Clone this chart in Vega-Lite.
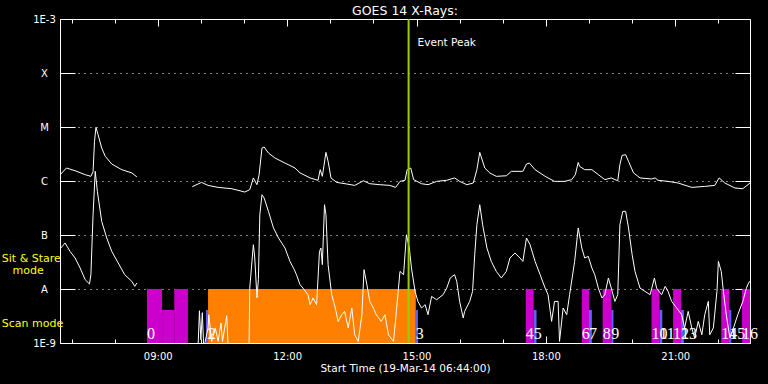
{
  "$schema": "https://vega.github.io/schema/vega-lite/v6.json",
  "width": 690,
  "height": 324,
  "autosize": {"type": "none"},
  "padding": {"left": 60, "top": 19, "right": 18, "bottom": 41},
  "background": "#000000",
  "title": {"text": "GOES 14 X-Rays:", "color": "#ffffff", "font": "DejaVu Sans", "fontSize": 12.5, "fontWeight": "normal", "anchor": "middle", "offset": 3, "dy": 6},
  "config": {
    "view": {"stroke": null},
    "axis": {"domainColor": "#ffffff", "domainWidth": 1, "tickColor": "#ffffff", "tickWidth": 1, "labelColor": "#ffffff", "titleColor": "#ffffff", "labelFont": "DejaVu Sans", "titleFont": "DejaVu Sans", "labelFontSize": 10, "titleFontWeight": "normal", "labelFlush": false, "labelOverlap": false, "grid": false, "gridColor": "#ffffff", "gridOpacity": 1}
  },
  "resolve": {"axis": {"x": "independent", "y": "independent"}},
  "layer": [
    {
      "data": {
        "values": [
          {"obs": "A", "t1": "2014-03-19T08:45Z", "t2": "2014-03-19T09:06Z", "top": 1e-8},
          {"obs": "A", "t1": "2014-03-19T09:06Z", "t2": "2014-03-19T09:23Z", "top": 4.1e-9},
          {"obs": "A", "t1": "2014-03-19T09:23Z", "t2": "2014-03-19T09:42Z", "top": 1e-8},
          {"obs": "B", "t1": "2014-03-19T10:07Z", "t2": "2014-03-19T10:10Z", "top": 4.1e-9},
          {"obs": "C", "t1": "2014-03-19T10:10Z", "t2": "2014-03-19T14:59Z", "top": 1e-8},
          {"obs": "B", "t1": "2014-03-19T14:59Z", "t2": "2014-03-19T15:02Z", "top": 4.1e-9},
          {"obs": "A", "t1": "2014-03-19T17:32Z", "t2": "2014-03-19T17:43Z", "top": 1e-8},
          {"obs": "B", "t1": "2014-03-19T17:43Z", "t2": "2014-03-19T17:47Z", "top": 4.1e-9},
          {"obs": "A", "t1": "2014-03-19T18:50Z", "t2": "2014-03-19T19:00Z", "top": 1e-8},
          {"obs": "B", "t1": "2014-03-19T19:00Z", "t2": "2014-03-19T19:04Z", "top": 4.1e-9},
          {"obs": "A", "t1": "2014-03-19T19:19Z", "t2": "2014-03-19T19:31Z", "top": 1e-8},
          {"obs": "B", "t1": "2014-03-19T19:31Z", "t2": "2014-03-19T19:34Z", "top": 4.1e-9},
          {"obs": "A", "t1": "2014-03-19T20:27Z", "t2": "2014-03-19T20:38Z", "top": 1e-8},
          {"obs": "B", "t1": "2014-03-19T20:38Z", "t2": "2014-03-19T20:42Z", "top": 4.1e-9},
          {"obs": "A", "t1": "2014-03-19T20:57Z", "t2": "2014-03-19T21:08Z", "top": 1e-8},
          {"obs": "B", "t1": "2014-03-19T21:08Z", "t2": "2014-03-19T21:12Z", "top": 4.1e-9},
          {"obs": "A", "t1": "2014-03-19T22:04Z", "t2": "2014-03-19T22:15Z", "top": 1e-8},
          {"obs": "B", "t1": "2014-03-19T22:15Z", "t2": "2014-03-19T22:18Z", "top": 4.1e-9},
          {"obs": "A", "t1": "2014-03-19T22:33Z", "t2": "2014-03-19T22:44Z", "top": 1e-8}
        ]
      },
      "mark": {"type": "rect", "clip": true},
      "encoding": {
        "x": {
          "field": "t1", "type": "temporal",
          "scale": {"type": "utc", "domain": [1395211440000, 1395269040000]},
          "axis": {"orient": "bottom", "values": [1395219600000, 1395230400000, 1395241200000, 1395252000000, 1395262800000], "ticks": false, "labelPadding": 8, "labelBaseline": "top", "labelExpr": "utcFormat(datum.value, '%H:%M')", "domain": true, "title": "Start Time (19-Mar-14 06:44:00)", "titleFontSize": 10.5, "titlePadding": 2}
        },
        "x2": {"field": "t2"},
        "y": {
          "field": "top", "type": "quantitative",
          "scale": {"type": "log", "domain": [1e-9, 1e-3], "nice": false},
          "axis": {"orient": "left", "values": [1e-9, 1e-8, 1e-7, 1e-6, 1e-5, 1e-4, 1e-3], "labelExpr": "datum.value > 0.0009 ? '1E-3' : datum.value > 0.00009 ? 'X' : datum.value > 0.000009 ? 'M' : datum.value > 0.0000009 ? 'C' : datum.value > 0.00000009 ? 'B' : datum.value > 0.000000009 ? 'A' : '1E-9'", "ticks": false, "labelAlign": "center", "labelBaseline": "middle", "labelPadding": 16, "grid": true, "gridDash": [1, 5], "domain": true, "title": null}
        },
        "y2": {"datum": 1e-9},
        "color": {"field": "obs", "type": "nominal", "scale": {"domain": ["A", "B", "C"], "range": ["#cc00cc", "#6060ff", "#ff8000"]}, "legend": null}
      }
    },
    {
      "data": {
        "values": [
          {"s": "L1", "t": "2014-03-19T06:44Z", "v": 1.3e-6},
          {"s": "L1", "t": "2014-03-19T06:53Z", "v": 1.74e-6},
          {"s": "L1", "t": "2014-03-19T07:05Z", "v": 1.55e-6},
          {"s": "L1", "t": "2014-03-19T07:19Z", "v": 1.31e-6},
          {"s": "L1", "t": "2014-03-19T07:27Z", "v": 1.22e-6},
          {"s": "L1", "t": "2014-03-19T07:30Z", "v": 1.49e-6},
          {"s": "L1", "t": "2014-03-19T07:32Z", "v": 5.41e-6},
          {"s": "L1", "t": "2014-03-19T07:34Z", "v": 9.84e-6},
          {"s": "L1", "t": "2014-03-19T07:37Z", "v": 7.2e-6},
          {"s": "L1", "t": "2014-03-19T07:42Z", "v": 4.08e-6},
          {"s": "L1", "t": "2014-03-19T07:47Z", "v": 2.86e-6},
          {"s": "L1", "t": "2014-03-19T07:56Z", "v": 2.06e-6},
          {"s": "L1", "t": "2014-03-19T08:10Z", "v": 1.62e-6},
          {"s": "L1", "t": "2014-03-19T08:24Z", "v": 1.41e-6},
          {"s": "L1", "t": "2014-03-19T08:31Z", "v": 1.19e-6},
          {"s": "L2", "t": "2014-03-19T09:48Z", "v": 7.84e-7},
          {"s": "L2", "t": "2014-03-19T09:56Z", "v": 8.8e-7},
          {"s": "L2", "t": "2014-03-19T10:01Z", "v": 9.42e-7},
          {"s": "L2", "t": "2014-03-19T10:10Z", "v": 8.29e-7},
          {"s": "L2", "t": "2014-03-19T10:24Z", "v": 7.61e-7},
          {"s": "L2", "t": "2014-03-19T10:43Z", "v": 7.2e-7},
          {"s": "L2", "t": "2014-03-19T11:01Z", "v": 6.25e-7},
          {"s": "L2", "t": "2014-03-19T11:08Z", "v": 6.9e-7},
          {"s": "L2", "t": "2014-03-19T11:13Z", "v": 1.14e-6},
          {"s": "L2", "t": "2014-03-19T11:18Z", "v": 8.54e-7},
          {"s": "L2", "t": "2014-03-19T11:21Z", "v": 1.31e-6},
          {"s": "L2", "t": "2014-03-19T11:25Z", "v": 4.08e-6},
          {"s": "L2", "t": "2014-03-19T11:28Z", "v": 4.26e-6},
          {"s": "L2", "t": "2014-03-19T11:34Z", "v": 3.3e-6},
          {"s": "L2", "t": "2014-03-19T11:43Z", "v": 2.67e-6},
          {"s": "L2", "t": "2014-03-19T11:57Z", "v": 2.15e-6},
          {"s": "L2", "t": "2014-03-19T12:11Z", "v": 1.74e-6},
          {"s": "L2", "t": "2014-03-19T12:18Z", "v": 1.41e-6},
          {"s": "L2", "t": "2014-03-19T12:32Z", "v": 1.14e-6},
          {"s": "L2", "t": "2014-03-19T12:43Z", "v": 1.03e-6},
          {"s": "L2", "t": "2014-03-19T12:46Z", "v": 1.62e-6},
          {"s": "L2", "t": "2014-03-19T12:49Z", "v": 1.22e-6},
          {"s": "L2", "t": "2014-03-19T12:54Z", "v": 3.39e-6},
          {"s": "L2", "t": "2014-03-19T12:57Z", "v": 2.31e-6},
          {"s": "L2", "t": "2014-03-19T13:01Z", "v": 1.14e-6},
          {"s": "L2", "t": "2014-03-19T13:09Z", "v": 9.42e-7},
          {"s": "L2", "t": "2014-03-19T13:23Z", "v": 8.8e-7},
          {"s": "L2", "t": "2014-03-19T13:34Z", "v": 8.29e-7},
          {"s": "L2", "t": "2014-03-19T13:46Z", "v": 1.01e-6},
          {"s": "L2", "t": "2014-03-19T13:55Z", "v": 8.91e-7},
          {"s": "L2", "t": "2014-03-19T14:09Z", "v": 8.54e-7},
          {"s": "L2", "t": "2014-03-19T14:23Z", "v": 8.29e-7},
          {"s": "L2", "t": "2014-03-19T14:31Z", "v": 7.61e-7},
          {"s": "L2", "t": "2014-03-19T14:37Z", "v": 9.84e-7},
          {"s": "L2", "t": "2014-03-19T14:44Z", "v": 1.03e-6},
          {"s": "L2", "t": "2014-03-19T14:47Z", "v": 1.62e-6},
          {"s": "L2", "t": "2014-03-19T14:52Z", "v": 1.74e-6},
          {"s": "L2", "t": "2014-03-19T14:56Z", "v": 1.06e-6},
          {"s": "L2", "t": "2014-03-19T15:07Z", "v": 8.91e-7},
          {"s": "L2", "t": "2014-03-19T15:16Z", "v": 8.54e-7},
          {"s": "L2", "t": "2014-03-19T15:28Z", "v": 9.84e-7},
          {"s": "L2", "t": "2014-03-19T15:42Z", "v": 1.03e-6},
          {"s": "L2", "t": "2014-03-19T15:53Z", "v": 1.14e-6},
          {"s": "L2", "t": "2014-03-19T16:00Z", "v": 9.84e-7},
          {"s": "L2", "t": "2014-03-19T16:10Z", "v": 8.54e-7},
          {"s": "L2", "t": "2014-03-19T16:19Z", "v": 9.18e-7},
          {"s": "L2", "t": "2014-03-19T16:24Z", "v": 1.62e-6},
          {"s": "L2", "t": "2014-03-19T16:28Z", "v": 3.39e-6},
          {"s": "L2", "t": "2014-03-19T16:35Z", "v": 1.74e-6},
          {"s": "L2", "t": "2014-03-19T16:42Z", "v": 1.41e-6},
          {"s": "L2", "t": "2014-03-19T16:51Z", "v": 1.22e-6},
          {"s": "L2", "t": "2014-03-19T17:05Z", "v": 1.25e-6},
          {"s": "L2", "t": "2014-03-19T17:12Z", "v": 1.51e-6},
          {"s": "L2", "t": "2014-03-19T17:28Z", "v": 1.51e-6},
          {"s": "L2", "t": "2014-03-19T17:33Z", "v": 2.06e-6},
          {"s": "L2", "t": "2014-03-19T17:37Z", "v": 2.15e-6},
          {"s": "L2", "t": "2014-03-19T17:45Z", "v": 1.62e-6},
          {"s": "L2", "t": "2014-03-19T17:59Z", "v": 1.22e-6},
          {"s": "L2", "t": "2014-03-19T18:12Z", "v": 9.84e-7},
          {"s": "L2", "t": "2014-03-19T18:26Z", "v": 9.84e-7},
          {"s": "L2", "t": "2014-03-19T18:36Z", "v": 1.06e-6},
          {"s": "L2", "t": "2014-03-19T18:41Z", "v": 1.31e-6},
          {"s": "L2", "t": "2014-03-19T18:45Z", "v": 2.21e-6},
          {"s": "L2", "t": "2014-03-19T18:47Z", "v": 1.86e-6},
          {"s": "L2", "t": "2014-03-19T18:54Z", "v": 1.62e-6},
          {"s": "L2", "t": "2014-03-19T19:04Z", "v": 1.62e-6},
          {"s": "L2", "t": "2014-03-19T19:13Z", "v": 1.31e-6},
          {"s": "L2", "t": "2014-03-19T19:22Z", "v": 1.06e-6},
          {"s": "L2", "t": "2014-03-19T19:31Z", "v": 1.14e-6},
          {"s": "L2", "t": "2014-03-19T19:40Z", "v": 1.01e-6},
          {"s": "L2", "t": "2014-03-19T19:43Z", "v": 2.0e-6},
          {"s": "L2", "t": "2014-03-19T19:46Z", "v": 2.98e-6},
          {"s": "L2", "t": "2014-03-19T19:51Z", "v": 3.07e-6},
          {"s": "L2", "t": "2014-03-19T19:55Z", "v": 2.31e-6},
          {"s": "L2", "t": "2014-03-19T20:02Z", "v": 1.41e-6},
          {"s": "L2", "t": "2014-03-19T20:11Z", "v": 1.14e-6},
          {"s": "L2", "t": "2014-03-19T20:27Z", "v": 1.09e-6},
          {"s": "L2", "t": "2014-03-19T20:32Z", "v": 1.14e-6},
          {"s": "L2", "t": "2014-03-19T20:36Z", "v": 1.03e-6},
          {"s": "L2", "t": "2014-03-19T20:50Z", "v": 9.84e-7},
          {"s": "L2", "t": "2014-03-19T21:04Z", "v": 9.18e-7},
          {"s": "L2", "t": "2014-03-19T21:23Z", "v": 7.61e-7},
          {"s": "L2", "t": "2014-03-19T21:41Z", "v": 7.94e-7},
          {"s": "L2", "t": "2014-03-19T21:55Z", "v": 8.29e-7},
          {"s": "L2", "t": "2014-03-19T22:01Z", "v": 1.14e-6},
          {"s": "L2", "t": "2014-03-19T22:09Z", "v": 9.18e-7},
          {"s": "L2", "t": "2014-03-19T22:23Z", "v": 7.42e-7},
          {"s": "L2", "t": "2014-03-19T22:34Z", "v": 7.2e-7},
          {"s": "L2", "t": "2014-03-19T22:44Z", "v": 9.18e-7},
          {"s": "S1", "t": "2014-03-19T06:44Z", "v": 5.5e-8},
          {"s": "S1", "t": "2014-03-19T06:51Z", "v": 7.11e-8},
          {"s": "S1", "t": "2014-03-19T06:58Z", "v": 4.97e-8},
          {"s": "S1", "t": "2014-03-19T07:05Z", "v": 3.75e-8},
          {"s": "S1", "t": "2014-03-19T07:12Z", "v": 2.45e-8},
          {"s": "S1", "t": "2014-03-19T07:19Z", "v": 1.49e-8},
          {"s": "S1", "t": "2014-03-19T07:25Z", "v": 1.24e-8},
          {"s": "S1", "t": "2014-03-19T07:27Z", "v": 1.84e-8},
          {"s": "S1", "t": "2014-03-19T07:30Z", "v": 2.38e-7},
          {"s": "S1", "t": "2014-03-19T07:33Z", "v": 1.51e-6},
          {"s": "S1", "t": "2014-03-19T07:36Z", "v": 6.42e-7},
          {"s": "S1", "t": "2014-03-19T07:42Z", "v": 1.79e-7},
          {"s": "S1", "t": "2014-03-19T07:49Z", "v": 8.8e-8},
          {"s": "S1", "t": "2014-03-19T07:56Z", "v": 4.97e-8},
          {"s": "S1", "t": "2014-03-19T08:05Z", "v": 3.03e-8},
          {"s": "S1", "t": "2014-03-19T08:14Z", "v": 1.84e-8},
          {"s": "S1", "t": "2014-03-19T08:24Z", "v": 1.38e-8},
          {"s": "S1", "t": "2014-03-19T08:28Z", "v": 1.12e-8},
          {"s": "S1", "t": "2014-03-19T08:31Z", "v": 1.29e-8},
          {"s": "S2", "t": "2014-03-19T09:56Z", "v": 8e-10},
          {"s": "S2", "t": "2014-03-19T09:58Z", "v": 3.96e-9},
          {"s": "S2", "t": "2014-03-19T10:00Z", "v": 1.15e-9},
          {"s": "S2", "t": "2014-03-19T10:02Z", "v": 3.64e-9},
          {"s": "S2", "t": "2014-03-19T10:04Z", "v": 8e-10},
          {"s": "S2", "t": "2014-03-19T10:10Z", "v": 1.9e-9},
          {"s": "S2", "t": "2014-03-19T10:11Z", "v": 3.34e-9},
          {"s": "S2", "t": "2014-03-19T10:15Z", "v": 1.07e-9},
          {"s": "S2", "t": "2014-03-19T10:20Z", "v": 1.9e-9},
          {"s": "S2", "t": "2014-03-19T10:24Z", "v": 1.07e-9},
          {"s": "S2", "t": "2014-03-19T10:28Z", "v": 2.35e-9},
          {"s": "S2", "t": "2014-03-19T10:30Z", "v": 1.07e-9},
          {"s": "S2", "t": "2014-03-19T10:36Z", "v": 3.2e-9},
          {"s": "S2", "t": "2014-03-19T10:38Z", "v": 8e-10},
          {"s": "S2", "t": "2014-03-19T11:07Z", "v": 8e-10},
          {"s": "S2", "t": "2014-03-19T11:08Z", "v": 1.04e-8},
          {"s": "S2", "t": "2014-03-19T11:13Z", "v": 6.61e-8},
          {"s": "S2", "t": "2014-03-19T11:15Z", "v": 3.75e-8},
          {"s": "S2", "t": "2014-03-19T11:18Z", "v": 6.9e-9},
          {"s": "S2", "t": "2014-03-19T11:20Z", "v": 1.49e-8},
          {"s": "S2", "t": "2014-03-19T11:22Z", "v": 2.38e-7},
          {"s": "S2", "t": "2014-03-19T11:25Z", "v": 5.57e-7},
          {"s": "S2", "t": "2014-03-19T11:28Z", "v": 4.84e-7},
          {"s": "S2", "t": "2014-03-19T11:34Z", "v": 2.74e-7},
          {"s": "S2", "t": "2014-03-19T11:41Z", "v": 1.35e-7},
          {"s": "S2", "t": "2014-03-19T11:48Z", "v": 8.8e-8},
          {"s": "S2", "t": "2014-03-19T11:57Z", "v": 5.74e-8},
          {"s": "S2", "t": "2014-03-19T12:04Z", "v": 3.24e-8},
          {"s": "S2", "t": "2014-03-19T12:10Z", "v": 2.28e-8},
          {"s": "S2", "t": "2014-03-19T12:13Z", "v": 1.84e-8},
          {"s": "S2", "t": "2014-03-19T12:18Z", "v": 1.2e-8},
          {"s": "S2", "t": "2014-03-19T12:22Z", "v": 1.04e-8},
          {"s": "S2", "t": "2014-03-19T12:29Z", "v": 7.84e-9},
          {"s": "S2", "t": "2014-03-19T12:32Z", "v": 5.12e-9},
          {"s": "S2", "t": "2014-03-19T12:36Z", "v": 6.81e-9},
          {"s": "S2", "t": "2014-03-19T12:41Z", "v": 5.12e-9},
          {"s": "S2", "t": "2014-03-19T12:45Z", "v": 4.97e-8},
          {"s": "S2", "t": "2014-03-19T12:47Z", "v": 5.74e-8},
          {"s": "S2", "t": "2014-03-19T12:49Z", "v": 2.82e-8},
          {"s": "S2", "t": "2014-03-19T12:52Z", "v": 3.64e-7},
          {"s": "S2", "t": "2014-03-19T12:54Z", "v": 2.38e-7},
          {"s": "S2", "t": "2014-03-19T12:57Z", "v": 2.82e-8},
          {"s": "S2", "t": "2014-03-19T13:02Z", "v": 7.84e-9},
          {"s": "S2", "t": "2014-03-19T13:07Z", "v": 4.45e-9},
          {"s": "S2", "t": "2014-03-19T13:11Z", "v": 2.51e-9},
          {"s": "S2", "t": "2014-03-19T13:16Z", "v": 3.34e-9},
          {"s": "S2", "t": "2014-03-19T13:20Z", "v": 3.85e-9},
          {"s": "S2", "t": "2014-03-19T13:25Z", "v": 1.9e-9},
          {"s": "S2", "t": "2014-03-19T13:30Z", "v": 4.45e-9},
          {"s": "S2", "t": "2014-03-19T13:34Z", "v": 1.42e-9},
          {"s": "S2", "t": "2014-03-19T13:39Z", "v": 1.07e-9},
          {"s": "S2", "t": "2014-03-19T13:44Z", "v": 3.34e-9},
          {"s": "S2", "t": "2014-03-19T13:47Z", "v": 2.28e-8},
          {"s": "S2", "t": "2014-03-19T13:51Z", "v": 1.2e-8},
          {"s": "S2", "t": "2014-03-19T13:55Z", "v": 5.89e-9},
          {"s": "S2", "t": "2014-03-19T14:00Z", "v": 4.45e-9},
          {"s": "S2", "t": "2014-03-19T14:04Z", "v": 3.34e-9},
          {"s": "S2", "t": "2014-03-19T14:11Z", "v": 2.51e-9},
          {"s": "S2", "t": "2014-03-19T14:16Z", "v": 3.34e-9},
          {"s": "S2", "t": "2014-03-19T14:21Z", "v": 1.42e-9},
          {"s": "S2", "t": "2014-03-19T14:28Z", "v": 1.07e-9},
          {"s": "S2", "t": "2014-03-19T14:32Z", "v": 3.85e-9},
          {"s": "S2", "t": "2014-03-19T14:37Z", "v": 2.12e-8},
          {"s": "S2", "t": "2014-03-19T14:42Z", "v": 1.84e-8},
          {"s": "S2", "t": "2014-03-19T14:46Z", "v": 1.01e-7},
          {"s": "S2", "t": "2014-03-19T14:50Z", "v": 5.74e-8},
          {"s": "S2", "t": "2014-03-19T14:53Z", "v": 2.45e-8},
          {"s": "S2", "t": "2014-03-19T14:58Z", "v": 9.03e-9},
          {"s": "S2", "t": "2014-03-19T15:02Z", "v": 5.89e-9},
          {"s": "S2", "t": "2014-03-19T15:07Z", "v": 4.45e-9},
          {"s": "S2", "t": "2014-03-19T15:12Z", "v": 5.12e-9},
          {"s": "S2", "t": "2014-03-19T15:16Z", "v": 3.34e-9},
          {"s": "S2", "t": "2014-03-19T15:21Z", "v": 7.29e-9},
          {"s": "S2", "t": "2014-03-19T15:28Z", "v": 6.34e-9},
          {"s": "S2", "t": "2014-03-19T15:37Z", "v": 7.84e-9},
          {"s": "S2", "t": "2014-03-19T15:42Z", "v": 1.04e-8},
          {"s": "S2", "t": "2014-03-19T15:47Z", "v": 1.6e-8},
          {"s": "S2", "t": "2014-03-19T15:53Z", "v": 1.84e-8},
          {"s": "S2", "t": "2014-03-19T15:56Z", "v": 1.38e-8},
          {"s": "S2", "t": "2014-03-19T16:00Z", "v": 5.89e-9},
          {"s": "S2", "t": "2014-03-19T16:05Z", "v": 2.9e-9},
          {"s": "S2", "t": "2014-03-19T16:07Z", "v": 3.85e-9},
          {"s": "S2", "t": "2014-03-19T16:14Z", "v": 5.89e-9},
          {"s": "S2", "t": "2014-03-19T16:18Z", "v": 9.03e-9},
          {"s": "S2", "t": "2014-03-19T16:21Z", "v": 4.32e-8},
          {"s": "S2", "t": "2014-03-19T16:24Z", "v": 1.55e-7},
          {"s": "S2", "t": "2014-03-19T16:28Z", "v": 3.64e-7},
          {"s": "S2", "t": "2014-03-19T16:32Z", "v": 1.55e-7},
          {"s": "S2", "t": "2014-03-19T16:38Z", "v": 5.74e-8},
          {"s": "S2", "t": "2014-03-19T16:44Z", "v": 3.24e-8},
          {"s": "S2", "t": "2014-03-19T16:51Z", "v": 2.12e-8},
          {"s": "S2", "t": "2014-03-19T16:58Z", "v": 1.6e-8},
          {"s": "S2", "t": "2014-03-19T17:05Z", "v": 2.12e-8},
          {"s": "S2", "t": "2014-03-19T17:10Z", "v": 3.75e-8},
          {"s": "S2", "t": "2014-03-19T17:17Z", "v": 4.64e-8},
          {"s": "S2", "t": "2014-03-19T17:24Z", "v": 3.75e-8},
          {"s": "S2", "t": "2014-03-19T17:28Z", "v": 3.24e-8},
          {"s": "S2", "t": "2014-03-19T17:33Z", "v": 8.8e-8},
          {"s": "S2", "t": "2014-03-19T17:38Z", "v": 6.61e-8},
          {"s": "S2", "t": "2014-03-19T17:45Z", "v": 3.24e-8},
          {"s": "S2", "t": "2014-03-19T17:52Z", "v": 1.84e-8},
          {"s": "S2", "t": "2014-03-19T17:59Z", "v": 1.04e-8},
          {"s": "S2", "t": "2014-03-19T18:03Z", "v": 7.84e-9},
          {"s": "S2", "t": "2014-03-19T18:08Z", "v": 2.51e-9},
          {"s": "S2", "t": "2014-03-19T18:12Z", "v": 5.89e-9},
          {"s": "S2", "t": "2014-03-19T18:17Z", "v": 5.89e-9},
          {"s": "S2", "t": "2014-03-19T18:19Z", "v": 1.07e-9},
          {"s": "S2", "t": "2014-03-19T18:24Z", "v": 4.45e-9},
          {"s": "S2", "t": "2014-03-19T18:29Z", "v": 3.34e-9},
          {"s": "S2", "t": "2014-03-19T18:33Z", "v": 7.84e-9},
          {"s": "S2", "t": "2014-03-19T18:40Z", "v": 3.24e-8},
          {"s": "S2", "t": "2014-03-19T18:45Z", "v": 1.35e-7},
          {"s": "S2", "t": "2014-03-19T18:50Z", "v": 5.74e-8},
          {"s": "S2", "t": "2014-03-19T18:54Z", "v": 3.75e-8},
          {"s": "S2", "t": "2014-03-19T18:59Z", "v": 4.02e-8},
          {"s": "S2", "t": "2014-03-19T19:04Z", "v": 2.45e-8},
          {"s": "S2", "t": "2014-03-19T19:08Z", "v": 1.84e-8},
          {"s": "S2", "t": "2014-03-19T19:13Z", "v": 1.04e-8},
          {"s": "S2", "t": "2014-03-19T19:18Z", "v": 6.81e-9},
          {"s": "S2", "t": "2014-03-19T19:22Z", "v": 7.84e-9},
          {"s": "S2", "t": "2014-03-19T19:27Z", "v": 1.6e-8},
          {"s": "S2", "t": "2014-03-19T19:31Z", "v": 1.04e-8},
          {"s": "S2", "t": "2014-03-19T19:36Z", "v": 5.89e-9},
          {"s": "S2", "t": "2014-03-19T19:40Z", "v": 7.84e-9},
          {"s": "S2", "t": "2014-03-19T19:43Z", "v": 1.55e-7},
          {"s": "S2", "t": "2014-03-19T19:47Z", "v": 2.74e-7},
          {"s": "S2", "t": "2014-03-19T19:51Z", "v": 2.74e-7},
          {"s": "S2", "t": "2014-03-19T19:55Z", "v": 1.35e-7},
          {"s": "S2", "t": "2014-03-19T20:00Z", "v": 4.32e-8},
          {"s": "S2", "t": "2014-03-19T20:04Z", "v": 2.12e-8},
          {"s": "S2", "t": "2014-03-19T20:11Z", "v": 1.04e-8},
          {"s": "S2", "t": "2014-03-19T20:18Z", "v": 9.03e-9},
          {"s": "S2", "t": "2014-03-19T20:25Z", "v": 7.84e-9},
          {"s": "S2", "t": "2014-03-19T20:31Z", "v": 1.6e-8},
          {"s": "S2", "t": "2014-03-19T20:34Z", "v": 1.04e-8},
          {"s": "S2", "t": "2014-03-19T20:41Z", "v": 7.84e-9},
          {"s": "S2", "t": "2014-03-19T20:46Z", "v": 1.12e-8},
          {"s": "S2", "t": "2014-03-19T20:50Z", "v": 9.03e-9},
          {"s": "S2", "t": "2014-03-19T20:55Z", "v": 5.89e-9},
          {"s": "S2", "t": "2014-03-19T21:02Z", "v": 4.45e-9},
          {"s": "S2", "t": "2014-03-19T21:09Z", "v": 3.34e-9},
          {"s": "S2", "t": "2014-03-19T21:13Z", "v": 1.9e-9},
          {"s": "S2", "t": "2014-03-19T21:18Z", "v": 3.85e-9},
          {"s": "S2", "t": "2014-03-19T21:23Z", "v": 1.9e-9},
          {"s": "S2", "t": "2014-03-19T21:27Z", "v": 1.24e-9},
          {"s": "S2", "t": "2014-03-19T21:32Z", "v": 2.51e-9},
          {"s": "S2", "t": "2014-03-19T21:37Z", "v": 1.42e-9},
          {"s": "S2", "t": "2014-03-19T21:41Z", "v": 3.34e-9},
          {"s": "S2", "t": "2014-03-19T21:46Z", "v": 5.89e-9},
          {"s": "S2", "t": "2014-03-19T21:48Z", "v": 1.42e-9},
          {"s": "S2", "t": "2014-03-19T21:53Z", "v": 1.9e-9},
          {"s": "S2", "t": "2014-03-19T21:58Z", "v": 9.03e-9},
          {"s": "S2", "t": "2014-03-19T22:00Z", "v": 3.24e-8},
          {"s": "S2", "t": "2014-03-19T22:04Z", "v": 2.12e-8},
          {"s": "S2", "t": "2014-03-19T22:07Z", "v": 9.03e-9},
          {"s": "S2", "t": "2014-03-19T22:11Z", "v": 3.34e-9},
          {"s": "S2", "t": "2014-03-19T22:16Z", "v": 1.24e-9},
          {"s": "S2", "t": "2014-03-19T22:21Z", "v": 1.9e-9},
          {"s": "S2", "t": "2014-03-19T22:27Z", "v": 3.34e-9},
          {"s": "S2", "t": "2014-03-19T22:34Z", "v": 5.89e-9},
          {"s": "S2", "t": "2014-03-19T22:39Z", "v": 1.04e-8},
          {"s": "S2", "t": "2014-03-19T22:42Z", "v": 1.29e-8},
          {"s": "S2", "t": "2014-03-19T22:44Z", "v": 1.4e-8}
        ]
      },
      "mark": {"type": "line", "color": "#ffffff", "strokeWidth": 1, "clip": true},
      "encoding": {
        "x": {"field": "t", "type": "temporal", "axis": {"orient": "bottom", "values": [1395212400000, 1395216000000, 1395219600000, 1395223200000, 1395226800000, 1395230400000, 1395234000000, 1395237600000, 1395241200000, 1395244800000, 1395248400000, 1395252000000, 1395255600000, 1395259200000, 1395262800000, 1395266400000], "tickSize": -4, "labels": false, "domain": false, "title": null}},
        "y": {"field": "v", "type": "quantitative", "axis": {"orient": "right", "values": [1e-9, 1e-8, 1e-7, 1e-6, 1e-5, 1e-4, 1e-3], "tickSize": -15, "labels": false, "domain": true, "title": null}},
        "detail": {"field": "s"}
      }
    },
    {
      "data": {"values": [{"t": "2014-03-19T14:49Z"}]},
      "mark": {"type": "rule", "color": "#99cc00", "strokeWidth": 2},
      "encoding": {
        "x": {"field": "t", "type": "temporal", "axis": {"orient": "top", "values": [1395219600000, 1395230400000, 1395241200000, 1395252000000, 1395262800000], "tickSize": -7, "labels": false, "domain": true, "title": null}}
      }
    },
    {
      "data": {"values": [{"t": "2014-03-19T14:49Z", "v": 3.1e-4, "label": "Event Peak"}]},
      "mark": {"type": "text", "color": "#ffffff", "font": "DejaVu Sans", "fontSize": 10.5, "align": "left", "baseline": "alphabetic", "dx": 9},
      "encoding": {
        "x": {"field": "t", "type": "temporal", "axis": {"orient": "top", "values": [1395212400000, 1395216000000, 1395219600000, 1395223200000, 1395226800000, 1395230400000, 1395234000000, 1395237600000, 1395241200000, 1395244800000, 1395248400000, 1395252000000, 1395255600000, 1395259200000, 1395262800000, 1395266400000], "tickSize": -4, "labels": false, "domain": false, "title": null}},
        "y": {"field": "v", "type": "quantitative", "axis": {"orient": "left", "values": [1e-9, 1e-8, 1e-7, 1e-6, 1e-5, 1e-4, 1e-3], "tickSize": -15, "labels": false, "domain": false, "title": null}},
        "text": {"field": "label"}
      }
    },
    {
      "data": {
        "values": [
          {"n": "0", "t": "2014-03-19T08:45Z"},
          {"n": "1", "t": "2014-03-19T10:07Z"},
          {"n": "2", "t": "2014-03-19T10:10Z"},
          {"n": "3", "t": "2014-03-19T14:59Z"},
          {"n": "4", "t": "2014-03-19T17:32Z"},
          {"n": "5", "t": "2014-03-19T17:43Z"},
          {"n": "6", "t": "2014-03-19T18:50Z"},
          {"n": "7", "t": "2014-03-19T19:00Z"},
          {"n": "8", "t": "2014-03-19T19:19Z"},
          {"n": "9", "t": "2014-03-19T19:31Z"},
          {"n": "10", "t": "2014-03-19T20:27Z"},
          {"n": "11", "t": "2014-03-19T20:38Z"},
          {"n": "12", "t": "2014-03-19T20:57Z"},
          {"n": "13", "t": "2014-03-19T21:08Z"},
          {"n": "14", "t": "2014-03-19T22:04Z"},
          {"n": "15", "t": "2014-03-19T22:15Z"},
          {"n": "16", "t": "2014-03-19T22:33Z"}
        ]
      },
      "mark": {"type": "text", "color": "#ffffff", "font": "Liberation Sans Narrow", "fontSize": 16, "align": "left", "baseline": "alphabetic"},
      "encoding": {
        "x": {"field": "t", "type": "temporal", "axis": {"orient": "bottom", "values": [1395219600000, 1395230400000, 1395241200000, 1395252000000, 1395262800000], "tickSize": -7, "labels": false, "domain": false, "title": null}},
        "y": {"datum": 1.19e-9, "type": "quantitative", "axis": null},
        "text": {"field": "n"}
      }
    },
    {
      "data": {
        "values": [
          {"label": "Sit & Stare", "t": "2014-03-19T05:23Z", "v": 3.1e-8},
          {"label": "mode", "t": "2014-03-19T05:38Z", "v": 1.9e-8},
          {"label": "Scan mode", "t": "2014-03-19T05:23Z", "v": 1.98e-9}
        ]
      },
      "mark": {"type": "text", "color": "#ffff00", "font": "DejaVu Sans", "fontSize": 11, "align": "left", "baseline": "alphabetic"},
      "encoding": {
        "x": {"field": "t", "type": "temporal", "axis": null},
        "y": {"field": "v", "type": "quantitative", "axis": null},
        "text": {"field": "label"}
      }
    }
  ]
}
